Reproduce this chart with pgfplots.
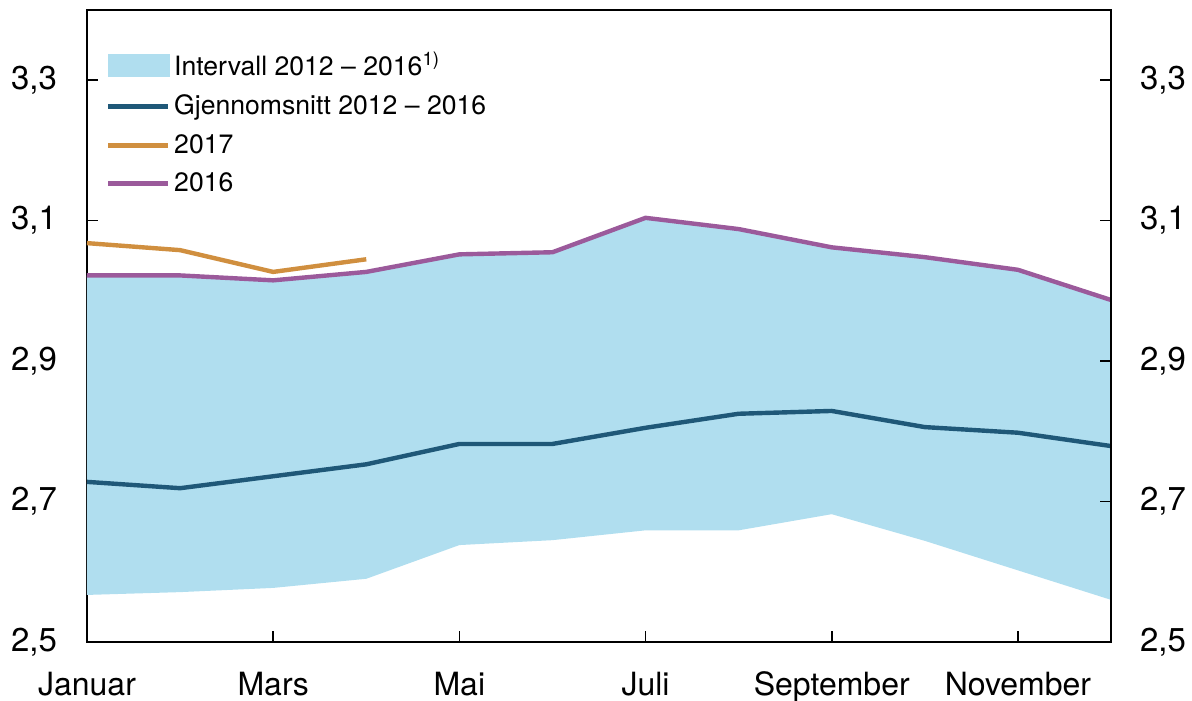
\documentclass[border=0pt]{standalone}
\usepackage{pgfplots}
\pgfplotsset{compat=1.18}
\usepackage{fontspec}
\setmainfont{TeX Gyre Heros}
\definecolor{band}{HTML}{B0DEEF}
\definecolor{meanc}{HTML}{1F5878}
\definecolor{c2017}{HTML}{D08F3F}
\definecolor{c2016}{HTML}{9B5A9B}
\pgfplotsset{
  linelegend/.style={legend image code/.code={\draw[##1] (0pt,0pt) -- (30pt,0pt);}},
  bandlegend/.style={legend image code/.code={\fill[band] (0pt,-5.8pt) rectangle (31pt,5.8pt);}},
}
\begin{document}
\begin{tikzpicture}
\pgfplotsset{
  common/.style={
    scale only axis, width=512pt, height=316pt,
    xmin=1, xmax=12, ymin=2.5, ymax=3.4,
    ytick={2.5,2.7,2.9,3.1,3.3},
    tick align=inside, major tick length=5.5pt,
    /pgf/number format/.cd, use comma, fixed, fixed zerofill, precision=1, assume math mode=true,
    /pgfplots/.cd,
    ticklabel style={font=\fontsize{16.5}{18}\selectfont},
    axis line style={line width=0.8pt}, tick style={line width=0.8pt, black},
  }
}
\begin{axis}[common,
  xtick={1,3,5,7,9,11},
  xticklabels={Januar,Mars,Mai,Juli,September,November},
  xticklabel style={yshift=-11.5pt, font=\fontsize{16}{18}\selectfont},
  ytick pos=left,
  xtick pos=bottom,
  yticklabel style={xshift=-11.5pt},
  clip=true,
  legend style={draw=none, fill=none, at={(rel axis cs:0.018,0.941)}, anchor=north west,
    font=\fontsize{13.3}{15}\selectfont, row sep=4.2pt, inner sep=0pt},
  legend cell align=left,
]
\addplot[fill=band, draw=none, area legend, bandlegend]
  coordinates {(1,3.022) (2,3.022) (3,3.015) (4,3.027) (5,3.052) (6,3.055) (7,3.104) (8,3.088) (9,3.062) (10,3.048) (11,3.030) (12,2.987)
  (12,2.560) (11,2.602) (10,2.644) (9,2.682) (8,2.659) (7,2.659) (6,2.645) (5,2.638) (4,2.590) (3,2.577) (2,2.571) (1,2.567)} -- cycle;
\addlegendentry{Intervall 2012 -- 2016\textsuperscript{1)}}
\addplot[meanc, line width=2.2pt, linelegend]
  coordinates {(1,2.728) (2,2.719) (3,2.736) (4,2.753) (5,2.782) (6,2.782) (7,2.805) (8,2.825) (9,2.829) (10,2.806) (11,2.798) (12,2.779)};
\addlegendentry{Gjennomsnitt 2012 -- 2016}
\addplot[c2017, line width=2.2pt, linelegend]
  coordinates {(1,3.068) (2,3.058) (3,3.027) (4,3.045)};
\addlegendentry{2017}
\addplot[c2016, line width=2.2pt, linelegend]
  coordinates {(1,3.022) (2,3.022) (3,3.015) (4,3.027) (5,3.052) (6,3.055) (7,3.104) (8,3.088) (9,3.062) (10,3.048) (11,3.030) (12,2.987)};
\addlegendentry{2016}
\end{axis}
\begin{axis}[common,
  axis x line=none,
  axis y line*=right,
  ytick pos=right,
  yticklabel pos=right,
  yticklabel style={xshift=11pt},
]
\end{axis}
\pgfresetboundingbox
\path (current axis.south west) ++(-43.5pt,-29.5pt) coordinate (bl);
\path (current axis.north east) ++(40.5pt,5pt) coordinate (tr);
\path[use as bounding box] (bl) rectangle (tr);
\end{tikzpicture}
\end{document}
